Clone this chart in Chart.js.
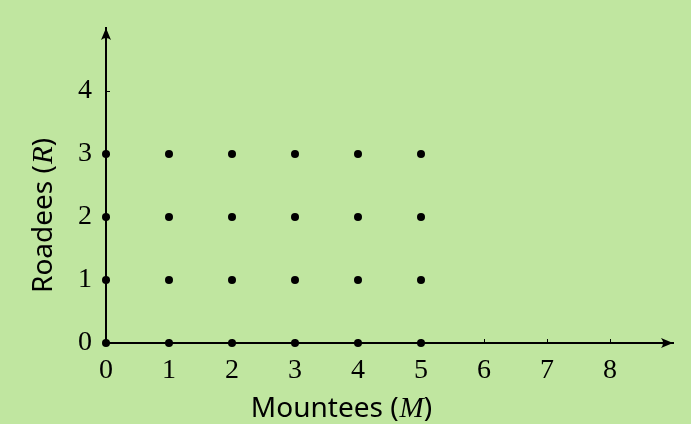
<!DOCTYPE html>
<html>
<head>
<meta charset="utf-8">
<script src="https://cdn.jsdelivr.net/npm/chart.js@4"></script>
<style>
  html, body { margin: 0; padding: 0; background: #c0e6a0; }
  #wrap { width: 691px; height: 424px; }
</style>
</head>
<body>
<div id="wrap"><canvas id="grid_chart"></canvas></div>
<script>
// values
const mountees = [0, 1, 2, 3, 4, 5];
const roadees = [0, 1, 2, 3];
const x_ticks = [0, 1, 2, 3, 4, 5, 6, 7, 8];
const y_ticks = [0, 1, 2, 3, 4];
const x_max = 9;
const y_max = 5;
const x_title = ["Mountees (", "M", ")"];
const y_title = ["Roadees (", "R", ")"];

const points = [];
roadees.forEach(function (r) {
  mountees.forEach(function (m) {
    points.push({ x: m, y: r });
  });
});

const sans = "28px 'Noto Sans'";
const ital = "italic 29px 'Liberation Serif'";

function drawTitle(ctx, parts, cx, cy, angle) {
  ctx.save();
  ctx.translate(cx, cy);
  ctx.rotate(angle);
  ctx.fillStyle = "#000";
  ctx.textBaseline = "alphabetic";
  const fonts = [sans, ital, sans];
  let widths = parts.map(function (p, i) { ctx.font = fonts[i]; return ctx.measureText(p).width; });
  let total = widths.reduce(function (a, b) { return a + b; }, 0);
  let x = -total / 2;
  parts.forEach(function (p, i) {
    ctx.font = fonts[i];
    ctx.fillText(p, x, 8);
    x += widths[i] + (i == 0 ? 1 : 0);
  });
  ctx.restore();
}

function arrowHead(ctx, x, y, angle) {
  ctx.save();
  ctx.translate(x, y);
  ctx.rotate(angle);
  ctx.beginPath();
  ctx.moveTo(0, 0);
  ctx.lineTo(-12, -5);
  ctx.quadraticCurveTo(-8, 0, -12, 5);
  ctx.closePath();
  ctx.fillStyle = "#000";
  ctx.fill();
  ctx.restore();
}

const axisDecor = {
  id: "axisDecor",
  afterDraw: function (chart) {
    const ctx = chart.ctx;
    const xs = chart.scales.x, ys = chart.scales.y;
    const a = chart.chartArea;
    ctx.save();
    ctx.strokeStyle = "#000";
    ctx.lineWidth = 1;
    x_ticks.forEach(function (v) {
      const px = Math.round(xs.getPixelForValue(v)) + 0.5;
      ctx.beginPath();
      ctx.moveTo(px, a.bottom);
      ctx.lineTo(px, a.bottom - 4);
      ctx.stroke();
    });
    y_ticks.forEach(function (v) {
      const py = Math.round(ys.getPixelForValue(v)) + 0.5;
      ctx.beginPath();
      ctx.moveTo(a.left, py);
      ctx.lineTo(a.left + 4, py);
      ctx.stroke();
    });
    ctx.restore();
    arrowHead(ctx, xs.getPixelForValue(x_max), a.bottom, 0);
    arrowHead(ctx, a.left, ys.getPixelForValue(y_max), -Math.PI / 2);
    drawTitle(ctx, x_title, 341, 409, 0);
    drawTitle(ctx, y_title, 44, 216, -Math.PI / 2);
  }
};

const grid_chart = new Chart("grid_chart", {
  type: "scatter",
  data: {
    datasets: [
      {
        data: points,
        pointRadius: 4,
        pointHoverRadius: 4,
        backgroundColor: "#000",
        borderWidth: 0,
        clip: false,
      },
    ],
  },
  options: {
    responsive: true,
    maintainAspectRatio: false,
    animation: false,
    layout: { padding: { top: 28, right: 18, left: 0, bottom: 0 } },
    plugins: { legend: { display: false }, tooltip: { enabled: false } },
    scales: {
      x: {
        type: "linear",
        min: 0,
        max: x_max,
        afterBuildTicks: function (scale) {
          scale.ticks = x_ticks.map(function (v) { return { value: v }; });
        },
        afterFit: function (scale) {
          scale.height = 81;
          scale.paddingLeft = 0; scale.paddingRight = 0;
        },
        grid: { drawOnChartArea: false, drawTicks: false },
        border: { display: true, color: "#000", width: 2 },
        ticks: {
          padding: 11,
          color: "#000",
          maxRotation: 0,
          autoSkip: false,
          font: { family: "'Liberation Serif'", size: 28 },
        },
      },
      y: {
        type: "linear",
        min: 0,
        max: y_max,
        afterBuildTicks: function (scale) {
          scale.ticks = y_ticks.map(function (v) { return { value: v }; });
        },
        afterFit: function (scale) {
          scale.width = 106;
          scale.paddingTop = 0; scale.paddingBottom = 0;
        },
        grid: { drawOnChartArea: false, drawTicks: false },
        border: { display: true, color: "#000", width: 2 },
        ticks: {
          padding: 14,
          color: "#000",
          autoSkip: false,
          font: { family: "'Liberation Serif'", size: 28 },
        },
      },
    },
  },
  plugins: [axisDecor],
});
</script>
</body>
</html>
